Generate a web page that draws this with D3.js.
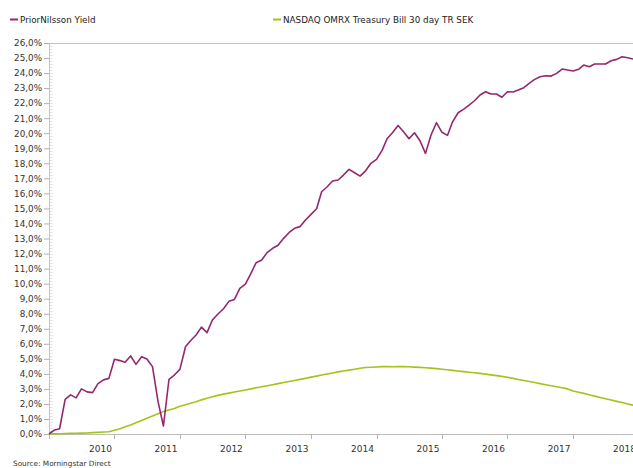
<!DOCTYPE html>
<html>
<head>
<meta charset="utf-8">
<script src="https://cdn.jsdelivr.net/npm/d3@7"></script>
<style>
  body { margin: 0; background: #fff; }
  svg { display: block; font-family: "DejaVu Sans", Verdana, sans-serif; }
</style>
</head>
<body>
<svg id="chart" width="633" height="468"></svg>
<script>
// monthly observations, Jan 2009 .. Dec 2017 (cumulative return, %)
var startMonth = new Date(2009, 0, 1);
var endMonth = new Date(2017, 11, 1);

var priorNilsson = [
  0, 0.27, 0.35, 2.3, 2.6, 2.4, 3.0, 2.8, 2.75, 3.35, 3.6, 3.7,
  4.97, 4.88, 4.77, 5.19, 4.63, 5.14, 4.99, 4.48, 2.15, 0.53, 3.64, 3.92,
  4.3, 5.8, 6.2, 6.58, 7.11, 6.74, 7.58, 7.98, 8.33, 8.82, 8.95, 9.69,
  9.97, 10.68, 11.39, 11.57, 12.06, 12.35, 12.55, 13.01, 13.4, 13.68, 13.79, 14.23,
  14.6, 14.98, 16.11, 16.44, 16.82, 16.89, 17.22, 17.6, 17.37, 17.15, 17.5, 18.0,
  18.26, 18.86, 19.63, 20.05, 20.52, 20.1, 19.64, 20.03, 19.48, 18.66, 19.88, 20.7,
  20.06, 19.86, 20.76, 21.36, 21.59, 21.87, 22.16, 22.54, 22.76, 22.61, 22.61, 22.39,
  22.76, 22.74, 22.87, 23.03, 23.32, 23.58, 23.76, 23.82, 23.8, 23.98, 24.27, 24.2,
  24.14, 24.25, 24.53, 24.42, 24.6, 24.6, 24.6, 24.82, 24.91, 25.09, 25.02, 24.93
];

var treasuryBill = [
  0, 0.01, 0.02, 0.03, 0.04, 0.05, 0.06, 0.07, 0.09, 0.11, 0.13, 0.15,
  0.25, 0.35, 0.48, 0.6, 0.75, 0.9, 1.05, 1.2, 1.35, 1.5, 1.6, 1.7,
  1.85, 1.95, 2.05, 2.15, 2.27, 2.38, 2.48, 2.57, 2.65, 2.72, 2.79, 2.86,
  2.93, 3.0, 3.07, 3.14, 3.21, 3.28, 3.35, 3.42, 3.49, 3.56, 3.63, 3.7,
  3.78, 3.85, 3.92, 3.99, 4.06, 4.13, 4.19, 4.25, 4.31, 4.37, 4.42, 4.44,
  4.46, 4.48, 4.48, 4.47, 4.48, 4.48, 4.47, 4.45, 4.43, 4.41, 4.38, 4.35,
  4.31, 4.27, 4.23, 4.19, 4.15, 4.11, 4.07, 4.03, 3.98, 3.93, 3.88, 3.83,
  3.77, 3.7, 3.63, 3.56, 3.49, 3.42, 3.35, 3.28, 3.21, 3.14, 3.07, 3.0,
  2.86, 2.78, 2.7, 2.61, 2.52, 2.43, 2.35, 2.26, 2.17, 2.09, 2.0, 1.92
];

var yearLabels = [2010, 2011, 2012, 2013, 2014, 2015, 2016, 2017, 2018];
var seriesNames = ["PriorNilsson Yield", "NASDAQ OMRX Treasury Bill 30 day TR SEK"];
var seriesColors = ["#93286f", "#a4c31c"];

var months = d3.timeMonth.range(startMonth, d3.timeMonth.offset(endMonth, 1));

var svg = d3.select("#chart");
var margin = {top: 43, right: 0, bottom: 34, left: 49};
var width = 633 - margin.left - margin.right;
var height = 468 - margin.top - margin.bottom;
var g = svg.append("g").attr("transform", "translate(" + margin.left + "," + margin.top + ")");

var x = d3.scaleTime().domain([startMonth, endMonth]).range([0, width]);
var y = d3.scaleLinear().domain([0, 26]).range([height, 0]);

var fmt = function(v) { return d3.format(".1f")(v).replace(".", ",") + "%"; };

// top frame line
g.append("line")
    .attr("x1", 0).attr("x2", width)
    .attr("y1", 0.5).attr("y2", 0.5)
    .attr("stroke", "#c4c4c4");

// minor ticks on y axis
g.append("g")
  .selectAll("line")
  .data(d3.range(0, 130).map(function(k) { return k / 5; }))
  .enter().append("line")
    .attr("x1", 1).attr("x2", 3.5)
    .attr("y1", function(d) { return Math.round(y(d)) + 0.5; })
    .attr("y2", function(d) { return Math.round(y(d)) + 0.5; })
    .attr("stroke", "#e2e2e2");

// y axis
var yAxis = g.append("g")
    .attr("class", "axis axis--y")
    .call(d3.axisLeft(y).tickValues(d3.range(0, 27)).tickFormat(fmt).tickSize(5).tickPadding(2));
yAxis.select(".domain").attr("stroke", "#c4c4c4");
yAxis.selectAll(".tick line").attr("stroke", "#b0b0b0");
yAxis.selectAll("text").attr("fill", "#333").style("font-size", "8.8px").style("font-family", "DejaVu Sans, Verdana, sans-serif");

// x axis line and year ticks
g.append("line")
    .attr("x1", 0).attr("x2", width)
    .attr("y1", height + 0.5).attr("y2", height + 0.5)
    .attr("stroke", "#bdbdbd");

var xt = g.append("g").attr("class", "axis axis--x");
xt.selectAll("line")
  .data([2009].concat(yearLabels))
  .enter().append("line")
    .attr("x1", function(d) { return Math.round(x(new Date(d, 0, 1))) + 0.5; })
    .attr("x2", function(d) { return Math.round(x(new Date(d, 0, 1))) + 0.5; })
    .attr("y1", height).attr("y2", height + 5)
    .attr("stroke", "#b5b5b5");
xt.selectAll("text")
  .data(yearLabels)
  .enter().append("text")
    .attr("x", function(d) { return x(new Date(d, 0, 1)) - 14; })
    .attr("y", height + 18)
    .attr("text-anchor", "middle")
    .attr("fill", "#333")
    .style("font-size", "9px")
    .text(function(d) { return d; });

// lines
var line = d3.line()
    .x(function(d, i) { return x(months[i]); })
    .y(function(d) { return y(d); });

g.append("path")
    .datum(treasuryBill)
    .attr("fill", "none")
    .attr("stroke", seriesColors[1])
    .attr("stroke-width", 1.6)
    .attr("stroke-linejoin", "round")
    .attr("d", line);

g.append("path")
    .datum(priorNilsson)
    .attr("fill", "none")
    .attr("stroke", seriesColors[0])
    .attr("stroke-width", 1.6)
    .attr("stroke-linejoin", "round")
    .attr("d", line);

// legend
var legend = svg.append("g").attr("class", "legend");
var legendX = [10, 273];
seriesNames.forEach(function(name, i) {
  legend.append("line")
      .attr("x1", legendX[i]).attr("x2", legendX[i] + 8)
      .attr("y1", 19.5).attr("y2", 19.5)
      .attr("stroke", seriesColors[i])
      .attr("stroke-width", 2);
  legend.append("text")
      .attr("x", legendX[i] + 10)
      .attr("y", 23)
      .attr("fill", "#222")
      .style("font-size", "8.8px")
      .text(name);
});

svg.append("text")
    .attr("x", 13)
    .attr("y", 466)
    .attr("fill", "#333")
    .style("font-size", "7.3px")
    .text("Source:  Morningstar Direct");
</script>
</body>
</html>
